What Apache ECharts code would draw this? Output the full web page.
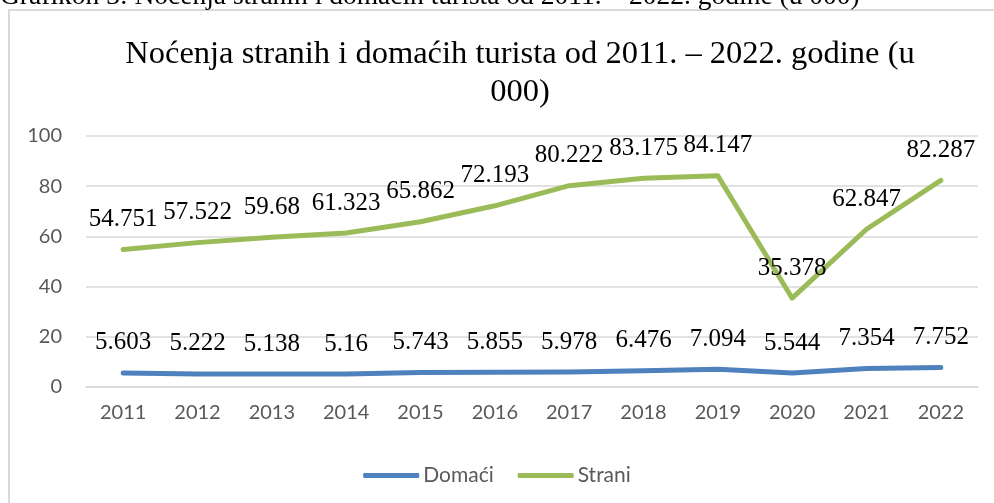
<!DOCTYPE html>
<html>
<head>
<meta charset="utf-8">
<script src="https://cdn.jsdelivr.net/npm/echarts@6/dist/echarts.min.js"></script>
<style>
  html, body { margin: 0; padding: 0; background: #fff; }
  #chart { width: 994px; height: 503px; }
</style>
</head>
<body>
<div id="chart"></div>
<script>
// podaci (u 000)
const years = ['2011', '2012', '2013', '2014', '2015', '2016', '2017', '2018', '2019', '2020', '2021', '2022']
const domaci = [5.603, 5.222, 5.138, 5.16, 5.743, 5.855, 5.978, 6.476, 7.094, 5.544, 7.354, 7.752]
const strani = [54.751, 57.522, 59.68, 61.323, 65.862, 72.193, 80.222, 83.175, 84.147, 35.378, 62.847, 82.287]

const caption = 'Grafikon 3: Noćenja stranih i domaćih turista od 2011. – 2022. godine (u 000)'
const titleText = 'Noćenja stranih i domaćih turista od 2011. – 2022. godine (u\n000)'

const serif = '"Liberation Serif", "Times New Roman", serif'
const sans = 'Lato, "Open Sans", sans-serif'

const chart = echarts.init(document.getElementById('chart'), null, { renderer: 'canvas' })

function labelOpt() {
  return {
    show: true,
    position: 'top',
    distance: 17,
    fontFamily: serif,
    fontSize: 25,
    color: '#000',
    formatter: p => String(p.value)
  }
}

chart.setOption({
  backgroundColor: '#fff',
  animation: false,
  title: {
    text: titleText,
    left: 515,
    top: 30,
    textAlign: 'center',
    textStyle: { fontFamily: serif, fontSize: 32.5, fontWeight: 'normal', color: '#000', lineHeight: 38 }
  },
  graphic: [
    {
      type: 'rect',
      shape: { x: 9, y: 10, width: 1000, height: 600 },
      style: { fill: 'none', stroke: '#d9d9d9', lineWidth: 2 },
      silent: true
    },
    {
      type: 'text',
      left: 0,
      top: -17,
      style: { text: caption, fontFamily: serif, fontSize: 27.5, fill: '#000' },
      silent: true
    }
  ],
  legend: {
    data: ['Domaći', 'Strani'],
    left: 'center',
    top: 460,
    itemWidth: 56,
    itemHeight: 5,
    itemGap: 24,
    icon: 'roundRect',
    textStyle: { fontFamily: sans, fontSize: 21, color: '#595959', padding: [0, 0, 0, -1] }
  },
  grid: { left: 86, right: 16, top: 136, bottom: 116 },
  xAxis: {
    type: 'category',
    data: years,
    boundaryGap: true,
    axisLine: { lineStyle: { color: '#d9d9d9', width: 1.5 } },
    axisTick: { show: false },
    axisLabel: { fontFamily: sans, fontSize: 20, color: '#595959', margin: 16 }
  },
  yAxis: {
    type: 'value',
    min: 0,
    max: 100,
    interval: 20,
    axisLine: { show: false },
    axisTick: { show: false },
    splitLine: { lineStyle: { color: '#d9d9d9', width: 1.5 } },
    axisLabel: { fontFamily: sans, fontSize: 20, color: '#595959', margin: 24 }
  },
  series: [
    {
      name: 'Domaći',
      type: 'line',
      data: domaci,
      symbol: 'circle',
      symbolSize: 1,
      color: '#4f81bd',
      lineStyle: { width: 5, color: '#4f81bd', cap: 'round', join: 'round' },
      label: labelOpt()
    },
    {
      name: 'Strani',
      type: 'line',
      data: strani,
      symbol: 'circle',
      symbolSize: 1,
      color: '#9bbb59',
      lineStyle: { width: 5, color: '#9bbb59', cap: 'round', join: 'round' },
      label: labelOpt()
    }
  ]
})
</script>
</body>
</html>
